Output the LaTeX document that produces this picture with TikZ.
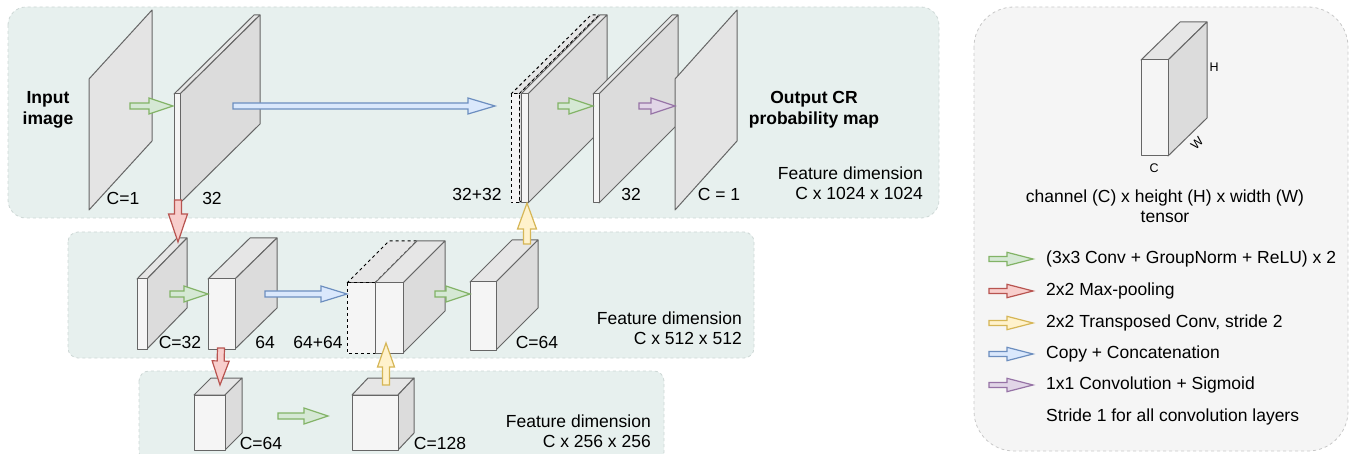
\documentclass[tikz,border=0pt]{standalone}
\usepackage{fontspec}
\setmainfont{Liberation Sans}
\usetikzlibrary{calc}
\definecolor{panelbg}{RGB}{231,240,238}
\definecolor{panelline}{RGB}{205,215,213}
\definecolor{legendbg}{RGB}{245,245,245}
\definecolor{legendline}{RGB}{200,200,200}
\definecolor{edgec}{RGB}{102,102,102}
\definecolor{frontc}{RGB}{245,245,245}
\definecolor{topc}{RGB}{230,230,230}
\definecolor{sidec}{RGB}{220,220,220}
\definecolor{planec}{RGB}{228,228,228}
\definecolor{gfill}{HTML}{D5E8D4}\definecolor{gline}{HTML}{82B366}
\definecolor{rfill}{HTML}{F8CECC}\definecolor{rline}{HTML}{B85450}
\definecolor{yfill}{HTML}{FFF2CC}\definecolor{yline}{HTML}{D6B656}
\definecolor{bfill}{HTML}{DAE8FC}\definecolor{bline}{HTML}{6C8EBF}
\definecolor{pfill}{HTML}{E1D5E7}\definecolor{pline}{HTML}{9673A6}
\tikzset{
  panel/.style={draw=panelline, fill=panelbg, dashed, line width=0.8},
  legendpanel/.style={draw=legendline, fill=legendbg, dashed, line width=0.8},
  cub/.style={draw=edgec, line width=1, line join=round},
  dashcub/.style={draw=black, dashed, line width=1},
  lbl/.style={font=\fontsize{17.5}{20.5}\selectfont, inner sep=0pt},
  blbl/.style={font=\fontsize{17.5}{21}\selectfont\bfseries, inner sep=0pt, align=center},
  small/.style={font=\fontsize{12.5}{15}\selectfont, inner sep=0pt},
  garrow/.style={draw=gline, fill=gfill, line width=1.2},
  rarrow/.style={draw=rline, fill=rfill, line width=1.2},
  yarrow/.style={draw=yline, fill=yfill, line width=1.2},
  barrow/.style={draw=bline, fill=bfill, line width=1.2},
  parrow/.style={draw=pline, fill=pfill, line width=1.2},
}
% cuboid: [style] name, x, y, w, h, dx, dy  (x,y = front top-left)
\newcommand{\cuboid}[8][]{%
  \draw[cub,fill=topc,#1] (#3,#4) -- ({#3+#7},{#4+#8}) -- ({#3+#5+#7},{#4+#8}) -- ({#3+#5},#4) -- cycle;
  \draw[cub,fill=sidec,#1] ({#3+#5},#4) -- ({#3+#5+#7},{#4+#8}) -- ({#3+#5+#7},{#4+#6+#8}) -- ({#3+#5},{#4+#6}) -- cycle;
  \draw[cub,fill=frontc,#1] (#3,#4) rectangle ({#3+#5},{#4+#6});
  \coordinate (#2) at (#3,#4);
}
% plane: name, x, y, h, dx, dy
\newcommand{\plane}[6]{%
  \draw[cub,fill=planec] (#2,#3) -- ({#2+#5},{#3+#6}) -- ({#2+#5},{#3+#4+#6}) -- (#2,{#3+#4}) -- cycle;
  \coordinate (#1) at (#2,#3);
}
% block arrow: style, from, to, head length, head half width, shaft half width
\newcommand{\fatarrow}[6]{%
  \coordinate (fa-h) at ($(#3)!#4pt!(#2)$);
  \draw[#1,line join=miter] ($(#2)!#6pt!90:(#3)$) -- ($(fa-h)!#6pt!90:(#3)$) -- ($(fa-h)!#5pt!90:(#3)$) -- (#3)
     -- ($(fa-h)!#5pt!-90:(#3)$) -- ($(fa-h)!#6pt!-90:(#3)$) -- ($(#2)!#6pt!-90:(#3)$) -- cycle;
}
\begin{document}
\begin{tikzpicture}[x=1pt,y=-1pt]
\useasboundingbox (0,0) rectangle (1349,454);
% panels
\draw[panel, rounded corners=18] (8,7) rectangle (939,218);
\draw[panel, rounded corners=10] (68,232) rectangle (754,358);
\draw[panel, rounded corners=10] (139,371) rectangle (664,462);
\draw[legendpanel, rounded corners=40] (974,7) rectangle (1348,451);

% ---- top level
\plane{in}{89}{79}{131}{63}{-69}
\cuboid{e1}{174}{94}{6}{109}{80}{-79}
\cuboid[dashcub]{d1c}{511}{94}{8}{109}{80}{-79}
\cuboid{d1}{521}{94}{7}{109}{79}{-79}
\cuboid{d1b}{593}{94}{6}{109}{79}{-79}
\plane{out}{675}{79}{131}{62}{-69}

% ---- middle level
\cuboid{e2a}{137}{279}{10}{70}{40}{-41}
\cuboid{e2b}{208}{279}{27}{70}{42}{-41}
\cuboid[dashcub]{d2c}{347}{283}{28}{70}{42}{-42}
\cuboid{d2}{375}{283}{28}{70}{42}{-42}
\cuboid{u2}{470}{282}{26}{68}{42}{-42}

% ---- bottom level
\cuboid{b1}{194}{395}{31}{55}{17}{-17}
\cuboid{b2}{352}{395}{46}{55}{16}{-17}

% ---- legend tensor
\cuboid{leg}{1141}{60}{27}{96}{39}{-38}
\node[small] (lH) at (1214,67) {H};
\node[small] (lC) at (1154,168) {C};
\node[small, rotate=45] (lW) at (1197,143) {W};
\node[lbl, align=center] (ltensor) at (1165,206) {channel (C) x height (H) x width (W)\\tensor};

% ---- arrow end points
\coordinate (g1s) at (130,106); \coordinate (g1e) at (173,106);
\coordinate (c1s) at (233,106); \coordinate (c1e) at (495,106);
\coordinate (g2s) at (558,106); \coordinate (g2e) at (593,106);
\coordinate (p1s) at (639,106); \coordinate (p1e) at (675,106);
\coordinate (r1s) at (178,200); \coordinate (r1e) at (178,242);
\coordinate (y1s) at (527,244); \coordinate (y1e) at (527,203);
\coordinate (g3s) at (170,294); \coordinate (g3e) at (208,294);
\coordinate (c2s) at (265,294); \coordinate (c2e) at (347,294);
\coordinate (g4s) at (435,294); \coordinate (g4e) at (470,294);
\coordinate (r2s) at (221,348); \coordinate (r2e) at (220,385);
\coordinate (y2s) at (386,385); \coordinate (y2e) at (386,343);
\coordinate (g5s) at (278,416); \coordinate (g5e) at (328,416);

\fatarrow{garrow}{g1s}{g1e}{24}{8}{3}
\fatarrow{barrow}{c1s}{c1e}{27}{8}{3}
\fatarrow{garrow}{g2s}{g2e}{24}{8}{3}
\fatarrow{parrow}{p1s}{p1e}{24}{8}{3}
\fatarrow{rarrow}{r1s}{r1e}{28}{9.5}{3.5}
\fatarrow{yarrow}{y1s}{y1e}{26}{9.5}{3.5}
\fatarrow{garrow}{g3s}{g3e}{24}{8}{3}
\fatarrow{barrow}{c2s}{c2e}{26}{8}{3}
\fatarrow{garrow}{g4s}{g4e}{24}{8}{3}
\fatarrow{rarrow}{r2s}{r2e}{24}{8.5}{3.5}
\fatarrow{yarrow}{y2s}{y2e}{24}{8.5}{3.5}
\fatarrow{garrow}{g5s}{g5e}{24}{8}{3}

% ---- labels
\node[blbl] (tin) at (48,110) {Input\\image};
\node[blbl] (tout) at (814,110) {Output CR\\probability map};
\node[lbl] (t1) at (123,198) {C=1};
\node[lbl] (t2) at (212,198) {32};
\node[lbl] (t3) at (477,194) {32+32};
\node[lbl] (t4) at (631,194) {32};
\node[lbl] (t5) at (719,194) {C = 1};
\node[lbl, align=right, anchor=east] (f1) at (923,183) {Feature dimension\\C x 1024 x 1024};
\node[lbl] (t6) at (180,342) {C=32};
\node[lbl] (t7) at (265,342) {64};
\node[lbl] (t8) at (318,342) {64+64};
\node[lbl] (t9) at (537,342) {C=64};
\node[lbl, align=right, anchor=east] (f2) at (742,328) {Feature dimension\\C x 512 x 512};
\node[lbl] (t10) at (261,443) {C=64};
\node[lbl] (t11) at (440,443) {C=128};
\node[lbl, align=right, anchor=east] (f3) at (651,431) {Feature dimension\\C x 256 x 256};

% ---- legend items
\foreach \yy/\st/\tx [count=\i] in {259/garrow/{(3x3 Conv + GroupNorm + ReLU) x 2},
    291/rarrow/{2x2 Max-pooling}, 323/yarrow/{2x2 Transposed Conv, stride 2},
    354/barrow/{Copy + Concatenation}, 385/parrow/{1x1 Convolution + Sigmoid}}{
  \coordinate (ls\i) at (989,\yy); \coordinate (le\i) at (1033,\yy);
  \fatarrow{\st}{ls\i}{le\i}{26}{6.7}{2.5}
  \node[lbl, anchor=west] (lt\i) at (1046,\yy) {\tx};
}
\node[lbl, anchor=west] (lstride) at (1046,417) {Stride 1 for all convolution layers};
\end{tikzpicture}
\end{document}
